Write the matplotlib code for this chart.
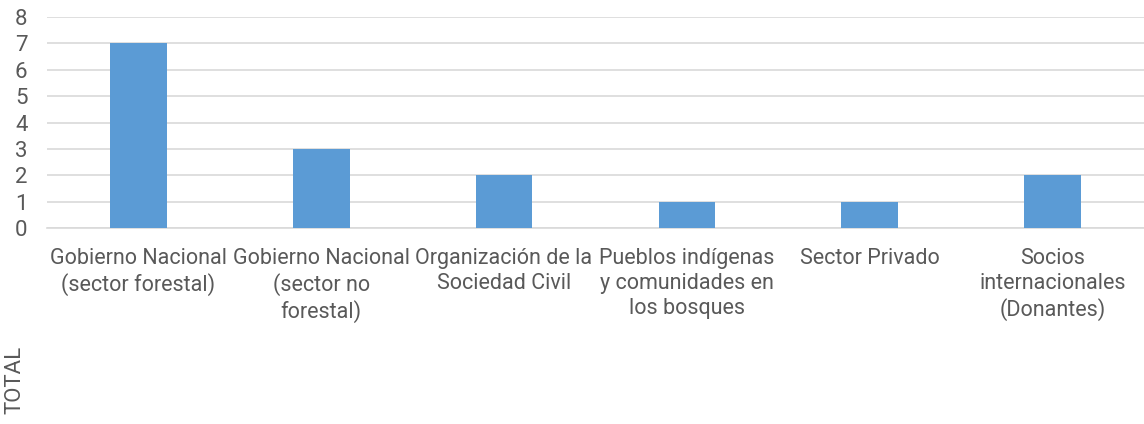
import matplotlib
matplotlib.use('Agg')
import matplotlib.pyplot as plt

# ── Datos ─────────────────────────────────────────────
categorias = [
    'Gobierno Nacional\n(sector forestal)',
    'Gobierno Nacional\n(sector no\nforestal)',
    'Organización de la\nSociedad Civil',
    'Pueblos indígenas\ny comunidades en\nlos bosques',
    'Sector Privado',
    'Socios\ninternacionales\n(Donantes)',
]
totales = [7, 3, 2, 1, 1, 2]
y_ticks = [0, 1, 2, 3, 4, 5, 6, 7, 8]

BAR = '#5B9BD5'
GRID = '#D9D9D9'
TXT = '#595959'

plt.rcParams.update({
    'font.family': ['Liberation Sans Narrow', 'Roboto', 'DejaVu Sans'],
    'font.size': 16,
})

fig = plt.figure(figsize=(11.44, 4.24), dpi=100, facecolor='white')
ax = fig.add_axes([0.041, 0.462, 0.959, 0.498])

x = range(len(categorias))
ax.bar(x, totales, width=0.31, color=BAR, zorder=3)

ax.set_xlim(-0.5, len(categorias) - 0.5)
ax.set_ylim(0, 8)
ax.set_yticks(y_ticks)
ax.set_xticks(list(x))
ax.set_xticklabels(categorias, linespacing=1.25, color=TXT, fontsize=15.5)
ax.yaxis.grid(True, color=GRID, linewidth=1.2, zorder=0)
ax.set_axisbelow(True)
for s in ax.spines.values():
    s.set_visible(False)
ax.spines['bottom'].set_visible(True)
ax.spines['bottom'].set_color(GRID)
ax.spines['bottom'].set_linewidth(1.2)
ax.tick_params(axis='both', length=0, colors=TXT, labelsize=16)
ax.tick_params(axis='x', pad=14, labelsize=15.5)
ax.tick_params(axis='y', pad=14)

fig.text(15 / 1144, 1 - 380 / 424, 'TOTAL', rotation=90, ha='center',
         va='center', color=TXT, fontsize=16)

fig.savefig('out.png', dpi=100, facecolor='white')
